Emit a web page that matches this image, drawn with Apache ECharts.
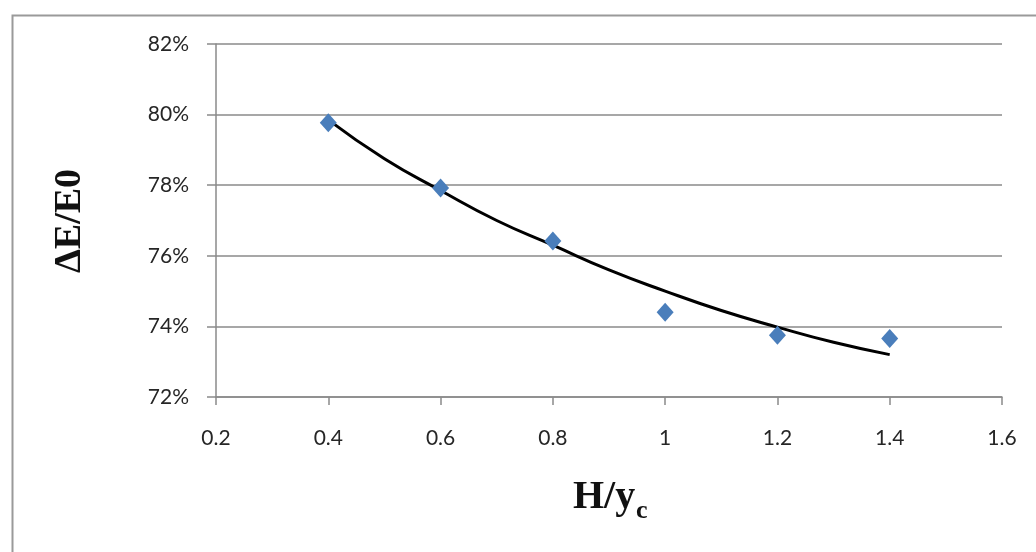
<!DOCTYPE html>
<html>
<head>
<meta charset="utf-8">
<script src="https://cdn.jsdelivr.net/npm/echarts@6/dist/echarts.min.js"></script>
<style>
html,body{margin:0;padding:0;background:#fff;}
#chart{width:1036px;height:552px;}
</style>
</head>
<body>
<div id="chart"></div>
<script>
// Measured points
var xValues = [0.4, 0.6, 0.8, 1.0, 1.2, 1.4];
var yValues = [79.77, 77.92, 76.42, 74.4, 73.75, 73.66];
// Trend line
var trendX = [0.4, 0.5, 0.6, 0.7, 0.8, 0.9, 1.0, 1.1, 1.2, 1.3, 1.4];
var trendY = [79.85, 78.75, 77.85, 77.0, 76.3, 75.6, 75.0, 74.45, 73.98, 73.55, 73.2];
var xTicks = [0.2, 0.4, 0.6, 0.8, 1.0, 1.2, 1.4, 1.6];
var yTicks = [72, 74, 76, 78, 80, 82];
var xTitle = 'H/y';
var xTitleSub = 'c';
var yTitle = 'ΔE/E0';

var chart = echarts.init(document.getElementById('chart'));
var labelFont = 'Lato, "Open Sans", sans-serif';
var serif = '"Liberation Serif", "DejaVu Serif", serif';
chart.setOption({
  animation: false,
  backgroundColor: '#fff',
  graphic: [{
    type: 'rect', left: 10, top: 13,
    shape: {width: 1040, height: 560},
    style: {fill: 'none', stroke: '#9a9a9a', lineWidth: 2}
  }, {
    type: 'text', x: 573, y: 498,
    style: {text: xTitle, font: 'bold 40px ' + serif, fill: '#111', align: 'left', verticalAlign: 'middle'}
  }, {
    type: 'text', x: 636, y: 511,
    style: {text: xTitleSub, font: 'bold 26px ' + serif, fill: '#111', align: 'left', verticalAlign: 'middle'}
  }, {
    type: 'text', x: 70, y: 221, rotation: Math.PI / 2,
    style: {text: yTitle, font: 'bold 38px ' + serif, fill: '#111', align: 'center', verticalAlign: 'middle'}
  }],
  grid: {left: 216, right: 34, top: 44, bottom: 155},
  xAxis: {
    type: 'value', min: 0.2, max: 1.6, interval: 0.2,
    axisLine: {show: true, lineStyle: {color: '#8a8a8a', width: 1.5}},
    axisTick: {show: true, inside: false, length: 8, lineStyle: {color: '#8a8a8a', width: 1.5}},
    axisLabel: {
      color: '#262626', fontSize: 21, fontFamily: labelFont, margin: 31,
      formatter: function (v) {
        var r = Math.round(v * 10) / 10;
        for (var i = 0; i < xTicks.length; i++) if (Math.abs(xTicks[i] - r) < 1e-6) return String(xTicks[i]);
        return '';
      }
    },
    splitLine: {show: false}
  },
  yAxis: {
    type: 'value', min: 72, max: 82, interval: 2,
    axisLine: {show: true, lineStyle: {color: '#8a8a8a', width: 1.5}},
    axisTick: {show: true, inside: false, length: 9, lineStyle: {color: '#8a8a8a', width: 1.5}},
    axisLabel: {
      color: '#262626', fontSize: 21, fontFamily: labelFont, margin: 27,
      formatter: function (v) {
        for (var i = 0; i < yTicks.length; i++) if (Math.abs(yTicks[i] - v) < 1e-6) return yTicks[i] + '%';
        return '';
      }
    },
    splitLine: {show: true, lineStyle: {color: '#8a8a8a', width: 1.5}}
  },
  series: [{
    type: 'line',
    data: trendX.map(function (x, i) { return [x, trendY[i]]; }),
    smooth: true, showSymbol: false, symbol: 'none',
    lineStyle: {color: '#000', width: 3},
    z: 2
  }, {
    type: 'scatter',
    data: xValues.map(function (x, i) { return [x, yValues[i]]; }),
    symbol: 'diamond', symbolSize: [17, 19],
    itemStyle: {color: '#4a7ebb', opacity: 1},
    z: 3
  }]
});
</script>
</body>
</html>
